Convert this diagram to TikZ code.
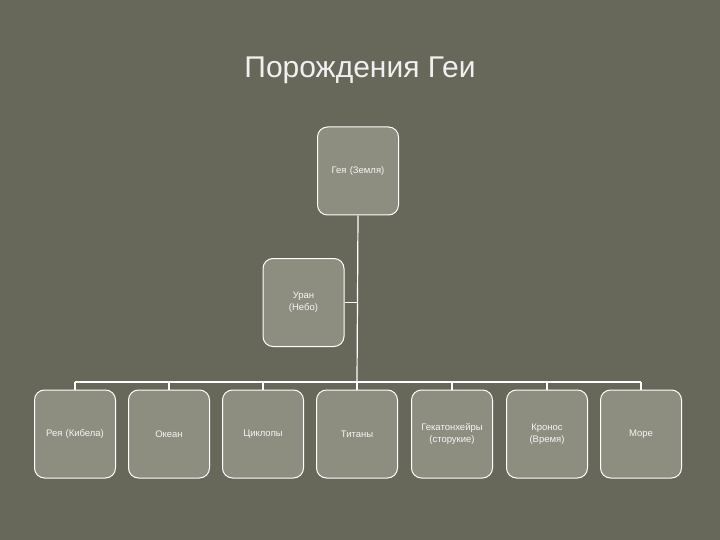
\documentclass[tikz,border=0pt]{standalone}
\usepackage{fontspec}
\setmainfont{Liberation Sans}
\begin{document}
\begin{tikzpicture}[x=1pt,y=-1pt,
  box/.style={draw=white,line width=1pt,fill=boxfill,rounded corners=10pt,minimum width=81pt,minimum height=88pt,text width=76pt,align=center,font=\fontsize{9.5}{12}\selectfont,text=white!92!gray,inner sep=1pt},
  link/.style={draw=white,line width=1.2pt}]
\definecolor{bg}{RGB}{103,103,90}
\definecolor{boxfill}{RGB}{142,142,128}
\fill[bg] (0,0) rectangle (720,540);
\useasboundingbox (0,0) rectangle (720,540);
\node[font=\fontsize{30}{36}\selectfont,text=white!88!gray] (title) at (360,70) {Порождения Геи};
\node[box] (gaia) at (358,171) {Гея (Земля)};
\node[box] (uran) at (303.5,302.5) {Уран\\(Небо)};
\coordinate (bar) at (357,382);
\coordinate (j) at (357,302.5);
\foreach \n/\x/\t in {b1/75/Рея (Кибела),b2/169/Океан,b3/263/Циклопы,b4/357/Титаны,b5/452/Гекатонхейры\\(сторукие),b6/547/Кронос\\(Время),b7/641/Море}{
  \node[box] (\n) at (\x,434) {\t};
  \draw[link] (\n.north) -- (\x,382);
}
\draw[link] (gaia.south) -- (bar);
\draw[link] (uran.east) -- (j);
\draw[link] (75,382) -- (641,382);
\end{tikzpicture}
\end{document}
